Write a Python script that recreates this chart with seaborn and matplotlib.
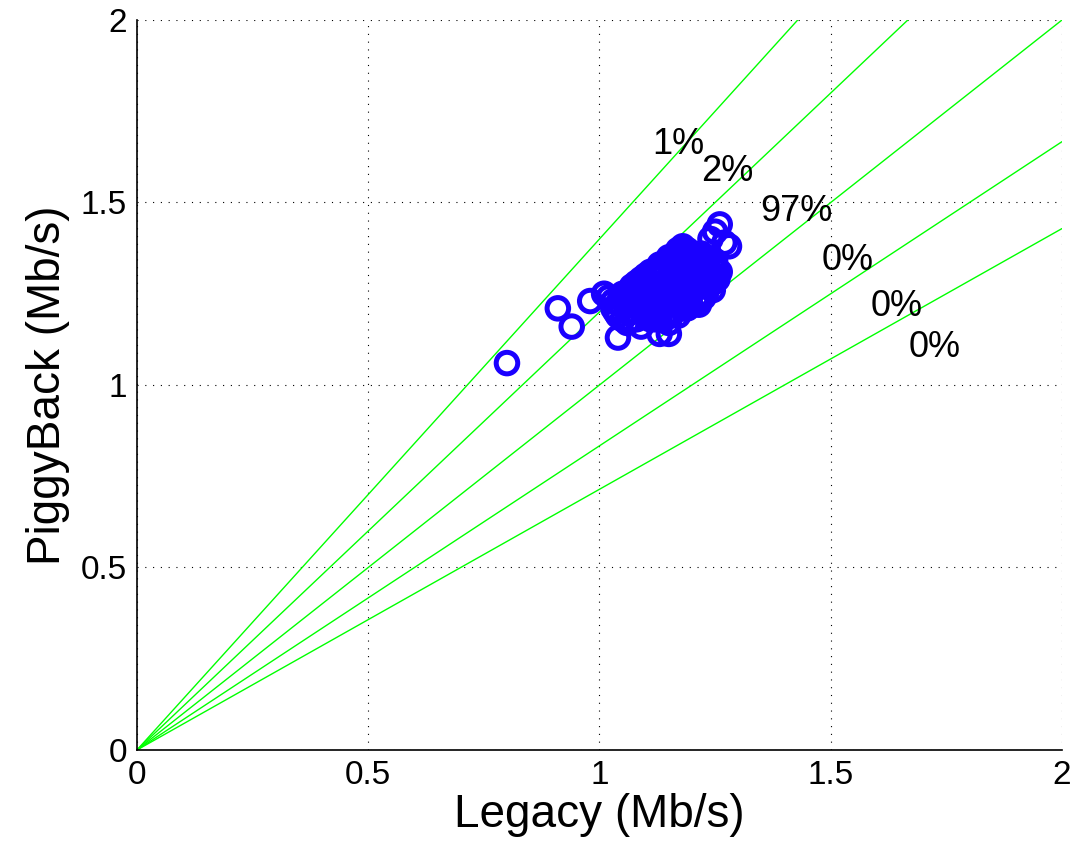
import numpy as np
import matplotlib
matplotlib.use("Agg")
import matplotlib.pyplot as plt
import seaborn as sns

sns.set_theme(style="white")
plt.rcParams['font.family'] = ['Liberation Sans', 'DejaVu Sans']
plt.rcParams['text.color'] = 'black'
plt.rcParams['axes.labelcolor'] = 'black'

# ratio lines PiggyBack / Legacy
slopes = [1.4, 1.2, 1.0, 1 / 1.2, 1 / 1.4]

# share of samples per ratio bin
pct_labels = ["1%", "2%", "97%", "0%", "0%", "0%"]
pct_x = [1.17, 1.276, 1.425, 1.537, 1.643, 1.724]
pct_y = [1.66, 1.584, 1.474, 1.342, 1.216, 1.104]

# throughput samples (Mb/s)
legacy = [0.80, 0.91, 0.94, 0.98, 1.01, 1.04, 1.13, 1.15, 1.26, 1.25, 1.28, 1.24, 1.27,
          1.06, 1.09, 1.12, 1.15,
          1.04, 1.07, 1.10, 1.13, 1.16, 1.19,
          1.03, 1.06, 1.09, 1.12, 1.15, 1.18, 1.21,
          1.03, 1.06, 1.09, 1.12, 1.15, 1.18, 1.21, 1.23,
          1.05, 1.08, 1.11, 1.14, 1.17, 1.20, 1.23,
          1.07, 1.10, 1.13, 1.16, 1.19, 1.22, 1.24,
          1.09, 1.12, 1.15, 1.18, 1.21, 1.24,
          1.11, 1.14, 1.17, 1.20, 1.23,
          1.13, 1.16, 1.19, 1.22,
          1.15, 1.18, 1.21,
          1.17, 1.19,
          1.05, 1.08, 1.11, 1.14, 1.17,
          1.035, 1.065, 1.095, 1.125, 1.155, 1.185, 1.215,
          1.045, 1.075, 1.105, 1.135, 1.165, 1.195, 1.225,
          1.02, 1.045, 1.075, 1.105, 1.135, 1.165, 1.195, 1.225, 1.245,
          1.065, 1.095, 1.125, 1.155, 1.185, 1.215, 1.245,
          1.08, 1.11, 1.14, 1.17, 1.20, 1.23, 1.25,
          1.10, 1.13, 1.16, 1.19, 1.22, 1.25,
          1.125, 1.155, 1.185, 1.215, 1.245,
          1.145, 1.175, 1.205, 1.23,
          1.165, 1.195, 1.22,
          1.18,
          1.26, 1.255, 1.25]
piggyback = [1.06, 1.21, 1.16, 1.23, 1.25, 1.13, 1.14, 1.14, 1.44, 1.42, 1.38, 1.40, 1.39,
             1.17, 1.16, 1.18, 1.17,
             1.19, 1.20, 1.19, 1.18, 1.20, 1.21,
             1.21, 1.22, 1.21, 1.20, 1.22, 1.21, 1.23,
             1.23, 1.24, 1.23, 1.24, 1.23, 1.22, 1.24, 1.25,
             1.25, 1.26, 1.25, 1.26, 1.25, 1.26, 1.27,
             1.27, 1.28, 1.27, 1.28, 1.27, 1.28, 1.29,
             1.29, 1.30, 1.29, 1.30, 1.29, 1.31,
             1.31, 1.32, 1.31, 1.32, 1.33,
             1.33, 1.34, 1.33, 1.34,
             1.35, 1.36, 1.35,
             1.37, 1.37,
             1.18, 1.18, 1.18, 1.18, 1.19,
             1.20, 1.20, 1.20, 1.20, 1.20, 1.21, 1.22,
             1.22, 1.22, 1.22, 1.22, 1.22, 1.23, 1.24,
             1.24, 1.24, 1.24, 1.24, 1.24, 1.24, 1.24, 1.25, 1.26,
             1.26, 1.26, 1.26, 1.26, 1.26, 1.27, 1.28,
             1.28, 1.28, 1.28, 1.28, 1.28, 1.29, 1.30,
             1.30, 1.30, 1.30, 1.30, 1.30, 1.32,
             1.32, 1.32, 1.32, 1.32, 1.33,
             1.34, 1.34, 1.34, 1.35,
             1.36, 1.36, 1.36,
             1.38,
             1.31, 1.29, 1.34]

fig = plt.figure(figsize=(10.75, 8.51), dpi=100)
ax = fig.add_axes([0.1274, 0.1187, 0.8605, 0.8578])

x_line = np.array([0.0, 2.0])
for s in slopes:
    sns.lineplot(x=x_line, y=s * x_line, color="#00ff00", linewidth=1.0, ax=ax)

sns.scatterplot(x=legacy, y=piggyback, ax=ax, marker="o", s=240,
                facecolors="none", edgecolor="#1a00ff", linewidth=3.6, zorder=3)

for lab, tx, ty in zip(pct_labels, pct_x, pct_y):
    ax.text(tx, ty, lab, fontsize=26, ha="center", va="center", color="black")

ax.set_xlim(0, 2)
ax.set_ylim(0, 2)
ax.set_xticks([0, 0.5, 1, 1.5, 2])
ax.set_yticks([0, 0.5, 1, 1.5, 2])
ax.set_xticklabels(["0", "0.5", "1", "1.5", "2"])
ax.set_yticklabels(["0", "0.5", "1", "1.5", "2"])
ax.tick_params(direction="in", length=6, width=1, labelsize=24, pad=7,
               color="black", labelcolor="black")
ax.grid(True, color="black", linestyle=(0, (1, 6)), linewidth=0.8)

for side in ["top", "right"]:
    ax.spines[side].set_visible(False)
for side in ["left", "bottom"]:
    ax.spines[side].set_color("black")
    ax.spines[side].set_linewidth(1.2)

ax.set_xlabel("Legacy (Mb/s)", fontsize=33, labelpad=2)
ax.set_ylabel("PiggyBack (Mb/s)", fontsize=33, labelpad=8)

fig.savefig("out.png", dpi=100, facecolor="white")
